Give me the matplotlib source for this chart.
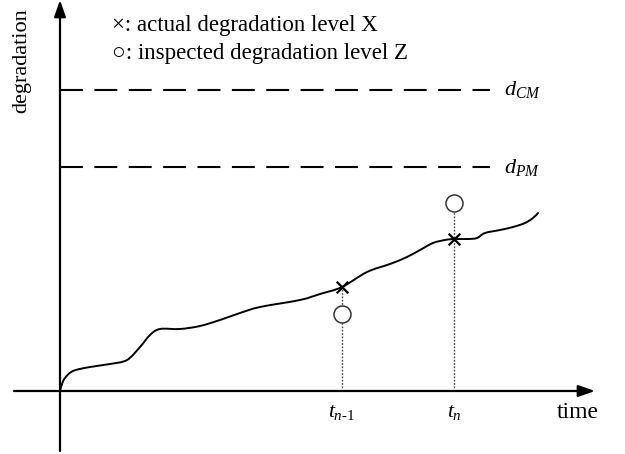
import matplotlib
matplotlib.use("Agg")
import matplotlib.pyplot as plt
from matplotlib.path import Path
from matplotlib.patches import PathPatch

# degradation path (time, degradation)
curve_t = [0.00, 0.02, 0.05, 0.13, 0.30, 0.50, 0.67, 0.80, 0.90, 1.00, 1.20, 1.40, 1.60, 1.80,
           2.00, 2.40, 2.60, 2.82, 3.07, 3.30, 3.47, 3.60, 3.73, 3.85, 3.94, 4.08, 4.17,
           4.25, 4.40, 4.53, 4.65, 4.73, 4.78]
curve_d = [0.00, 0.07, 0.13, 0.20, 0.24, 0.27, 0.31, 0.44, 0.56, 0.62, 0.62, 0.65, 0.71, 0.78,
           0.84, 0.91, 0.97, 1.04, 1.19, 1.27, 1.34, 1.41, 1.48, 1.51, 1.52, 1.52, 1.53,
           1.58, 1.61, 1.64, 1.68, 1.73, 1.78]

inspect_t = [2.82, 3.94]
actual_X = [1.04, 1.52]
inspected_Z = [0.77, 1.88]
tick_labels = [r"$t_{n\text{-}\mathit{1}}$", r"$t_n$"]

d_CM = 3.01
d_PM = 2.24
threshold_labels = [r"$d_{CM}$", r"$d_{PM}$"]

plt.rcParams['font.family'] = ['Liberation Serif', 'DejaVu Serif']
plt.rcParams['mathtext.fontset'] = 'custom'
plt.rcParams['mathtext.it'] = 'Liberation Serif:italic'
plt.rcParams['mathtext.rm'] = 'Liberation Serif'

fig = plt.figure(figsize=(6.25, 4.54), dpi=100)
ax = fig.add_axes([0, 0, 1, 1])
ax.set_xlim(-0.60, 5.65)
ax.set_ylim(-0.63, 3.91)
ax.axis('off')

# axes with arrows
ax.annotate('', xy=(5.35, 0), xytext=(-0.46, 0),
            arrowprops=dict(arrowstyle='-|>,head_length=1.0,head_width=0.35', color='black', lw=1.6,
                            shrinkA=0, shrinkB=0))
ax.annotate('', xy=(0, 3.91), xytext=(0, -0.60),
            arrowprops=dict(arrowstyle='-|>,head_length=1.0,head_width=0.35', color='black', lw=1.6,
                            shrinkA=0, shrinkB=0))

# thresholds
for d, lab in zip([d_CM, d_PM], threshold_labels):
    ax.plot([0, 4.30], [d, d], color='black', lw=1.5, dashes=(11, 5.5))
    ax.text(4.44, d, lab, fontsize=16, va='center', ha='left')

# degradation path drawn as a smooth Bezier through the read points
pts = list(zip(curve_t, curve_d))
verts = [pts[0]]
codes = [Path.MOVETO]
n = len(pts)
for i in range(n - 1):
    p0 = pts[i - 1] if i > 0 else pts[i]
    p1 = pts[i]
    p2 = pts[i + 1]
    p3 = pts[i + 2] if i + 2 < n else pts[i + 1]
    c1 = (p1[0] + (p2[0] - p0[0]) / 6, p1[1] + (p2[1] - p0[1]) / 6)
    c2 = (p2[0] - (p3[0] - p1[0]) / 6, p2[1] - (p3[1] - p1[1]) / 6)
    verts += [c1, c2, p2]
    codes += [Path.CURVE4] * 3
ax.add_patch(PathPatch(Path(verts, codes), fill=False, edgecolor='black', lw=1.4,
                       capstyle='round', joinstyle='round'))

# dotted verticals
for t, x, z in zip(inspect_t, actual_X, inspected_Z):
    top = max(x, z - 0.07)
    ax.plot([t, t], [0, top], color='#444444', lw=1.0, ls=(0, (1.2, 1.2)))

ax.scatter(inspect_t, actual_X, marker='x', s=70, color='black', linewidths=1.6, zorder=5)
ax.scatter(inspect_t, inspected_Z, marker='o', s=150, facecolors='white', edgecolors='#333333',
           linewidths=1.1, zorder=5)

for t, lab in zip(inspect_t, tick_labels):
    ax.text(t, -0.22, lab, fontsize=15.5, ha='center', va='center')

ax.text(5.18, -0.22, 'time', fontsize=17, ha='center', va='center')
ax.text(-0.38, 3.30, 'degradation', fontsize=16, rotation=90, ha='center', va='center')

ax.text(0.52, 3.66, '\u00d7: actual degradation level X', fontsize=16.5, ha='left', va='center')
ax.text(0.52, 3.38, '\u25cb: inspected degradation level Z', fontsize=16.5, ha='left', va='center')

fig.savefig('out.png', dpi=100)
